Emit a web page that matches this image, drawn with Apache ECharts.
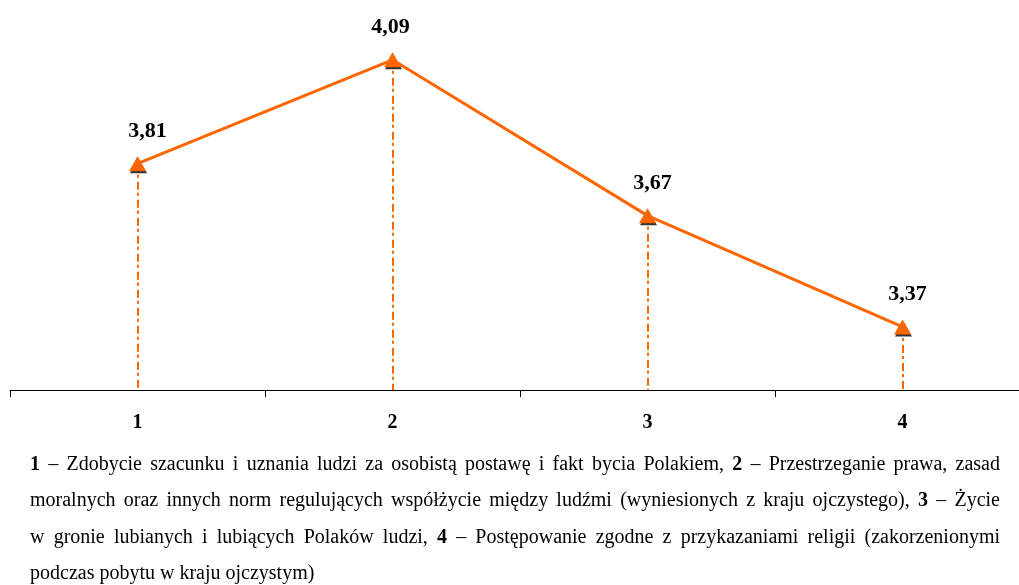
<!DOCTYPE html>
<html>
<head>
<meta charset="utf-8">
<script src="https://cdn.jsdelivr.net/npm/echarts@6/dist/echarts.min.js"></script>
<style>
html,body{margin:0;padding:0;background:#fff;overflow:hidden;width:1019px;height:585px;}
#main{width:1040px;height:585px;}
</style>
</head>
<body>
<div id="main"></div>
<script>
const categories = ['1', '2', '3', '4'];
const values = [3.81, 4.09, 3.67, 3.37];
const yMin = 3.2;
const yMax = 4.2;
const captionLines = [
  '**1** – Zdobycie szacunku i uznania ludzi za osobistą postawę i fakt bycia Polakiem, **2** – Przestrzeganie prawa, zasad',
  'moralnych oraz innych norm regulujących współżycie między ludźmi (wyniesionych z kraju ojczystego), **3** – Życie',
  'w gronie lubianych i lubiących Polaków ludzi, **4** – Postępowanie zgodne z przykazaniami religii (zakorzenionymi',
  'podczas pobytu w kraju ojczystym)'
];

// style-only settings
const labelShiftX = [10, -2, 5, 5];
const ORANGE = '#FF6600';
const SERIF = '"Liberation Serif", "Times New Roman", serif';

const chart = echarts.init(document.getElementById('main'));

// justified caption built from words
const ctx = document.createElement('canvas').getContext('2d');
const capFont = 20;
const capLeft = 30, capRight = 1000;
const capY = [466, 502, 539, 575];
const captionGraphics = [];
captionLines.forEach((line, li) => {
  const words = line.split(' ').map(w => {
    const bold = /^\*\*.*\*\*$/.test(w);
    return { text: bold ? w.slice(2, -2) : w, bold };
  });
  words.forEach(w => {
    ctx.font = (w.bold ? 'bold ' : '') + capFont + 'px ' + SERIF;
    w.width = ctx.measureText(w.text).width;
  });
  ctx.font = capFont + 'px ' + SERIF;
  const spaceW = ctx.measureText(' ').width;
  const total = words.reduce((s, w) => s + w.width, 0);
  const last = li === captionLines.length - 1;
  const gap = last ? spaceW : (capRight - capLeft - total) / (words.length - 1);
  let x = capLeft;
  words.forEach(w => {
    captionGraphics.push({
      type: 'text',
      left: x,
      top: capY[li] - 11,
      silent: true,
      style: {
        text: w.text,
        font: (w.bold ? 'bold ' : '') + capFont + 'px ' + SERIF,
        fill: '#000'
      }
    });
    x += w.width + gap;
  });
});

const option = {
  animation: false,
  backgroundColor: '#fff',
  grid: { left: 10, top: 19, width: 1020, height: 371, containLabel: false },
  xAxis: {
    type: 'category',
    data: categories,
    boundaryGap: true,
    axisLine: { show: true, lineStyle: { color: '#000', width: 1 } },
    axisTick: { show: true, length: 7, lineStyle: { color: '#000' }, alignWithLabel: false },
    axisLabel: { margin: 23, color: '#000', fontWeight: 'bold', fontSize: 20, fontFamily: SERIF },
    splitLine: { show: false }
  },
  yAxis: {
    type: 'value',
    min: yMin,
    max: yMax,
    show: false,
    splitLine: { show: false }
  },
  graphic: captionGraphics,
  series: [
    {
      type: 'scatter',
      data: values,
      symbol: 'triangle',
      symbolSize: [17, 15],
      symbolOffset: [1, 2],
      itemStyle: { color: '#000' },
      silent: true,
      z: 3
    },
    {
      type: 'line',
      data: values.map((v, i) => ({
        value: v,
        label: { offset: [labelShiftX[i], 0] }
      })),
      symbol: 'triangle',
      symbolSize: [17, 15],
      showAllSymbol: true,
      lineStyle: { color: ORANGE, width: 3 },
      itemStyle: { color: ORANGE, opacity: 1 },
      z: 4,
      label: {
        show: true,
        position: 'top',
        distance: 14,
        color: '#000',
        fontWeight: 'bold',
        fontSize: 22,
        fontFamily: SERIF,
        formatter: p => p.value.toFixed(2).replace('.', ',')
      },
      markLine: {
        silent: true,
        symbol: ['none', 'none'],
        label: { show: false },
        lineStyle: { color: ORANGE, width: 2, type: [8, 3, 3, 4] },
        z: 2,
        data: values.map((v, i) => [
          { coord: [i, v] },
          { coord: [i, yMin] }
        ])
      }
    }
  ]
};
chart.setOption(option);
</script>
</body>
</html>
